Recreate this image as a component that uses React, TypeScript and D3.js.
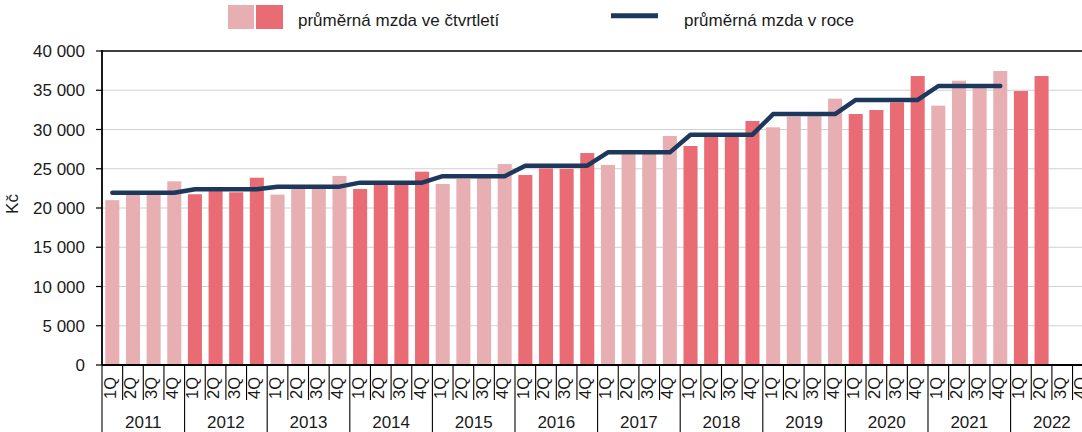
import React from "react";
import * as d3 from "d3";

const years = ["2011","2012","2013","2014","2015","2016","2017","2018","2019","2020","2021","2022"];
const quarters = ["1Q","2Q","3Q","4Q"];
const quarterValues: (number | null)[][] = [
  [21000, 21750, 21700, 23400],
  [21750, 22150, 22000, 23860],
  [21700, 22500, 22600, 24080],
  [22420, 23150, 22930, 24630],
  [23060, 23700, 23900, 25600],
  [24200, 25050, 25000, 27000],
  [25480, 26850, 26900, 29170],
  [27900, 29200, 29100, 31080],
  [30280, 31650, 31700, 33930],
  [31970, 32480, 33460, 36810],
  [33040, 36220, 35300, 37450],
  [34900, 36810, null, null],
];
const annualValues: (number | null)[] = [21950, 22380, 22720, 23230, 24050, 25390, 27090, 29340, 31970, 33760, 35540, null];
const yTicks = [0, 5000, 10000, 15000, 20000, 25000, 30000, 35000, 40000];
const legendBars = "průměrná mzda ve čtvrtletí";
const legendLine = "průměrná mzda v roce";
const yTitle = "Kč";

const W = 1082, H = 432;
const LIGHT = "#E8AFB3", DARK = "#E96B73", NAVY = "#1D385D";
const FONT = "'Liberation Sans', Arial, sans-serif";

export default function App() {
  const keys: string[] = [];
  years.forEach((y) => quarters.forEach((q) => keys.push(y + "-" + q)));
  const x = d3.scaleBand<string>().domain(keys).range([102, 102 + 48 * 20.65]).paddingInner(0.32).paddingOuter(0.16);
  const y = d3.scaleLinear().domain([0, 40000]).range([365, 51]);
  const step = x.step();
  const fmt = (v: number) => d3.format(",")(v).replace(/,/g, " ");

  const bars: { key: string; v: number; yi: number }[] = [];
  years.forEach((yr, yi) => quarters.forEach((q, qi) => {
    const v = quarterValues[yi][qi];
    if (v != null) bars.push({ key: yr + "-" + q, v, yi });
  }));

  const linePts: [number, number][] = [];
  years.forEach((yr, yi) => {
    const a = annualValues[yi];
    if (a == null) return;
    quarters.forEach((q) => linePts.push([x(yr + "-" + q)! + x.bandwidth() / 2, y(a)]));
  });
  const line = d3.line();

  const x0 = 102;
  return (
    <svg width={W} height={H} style={{ position: "absolute", left: 0, top: 0, background: "#fff" }} fontFamily={FONT}>
      {/* legend */}
      <rect x={228} y={5} width={26} height={24} fill={LIGHT} />
      <rect x={256} y={5} width={27} height={24} fill={DARK} />
      <text x={298} y={26} fontSize={17} fill="#1a1a1a">{legendBars}</text>
      <line x1={611} x2={658} y1={15.7} y2={15.7} stroke={NAVY} strokeWidth={5} />
      <text x={684} y={26} fontSize={17} fill="#1a1a1a">{legendLine}</text>

      {/* gridlines */}
      {yTicks.filter((t) => t > 0 && t < 40000).map((t) => (
        <line key={t} x1={x0} x2={W} y1={y(t)} y2={y(t)} stroke="#D0D0D0" strokeWidth={1.2} />
      ))}
      <line x1={x0} x2={W} y1={y(40000)} y2={y(40000)} stroke="#000" strokeWidth={1.6} />

      {/* bars */}
      {bars.map((b) => (
        <rect key={b.key} x={x(b.key)} y={y(b.v)} width={x.bandwidth()} height={y(0) - y(b.v)}
          fill={b.yi % 2 === 0 ? LIGHT : DARK} />
      ))}

      {/* annual line */}
      <path d={line(linePts) || ""} fill="none" stroke={NAVY} strokeWidth={4.5} strokeLinecap="round" strokeLinejoin="round" />

      {/* y axis */}
      <line x1={x0} x2={x0} y1={y(40000) - 1} y2={y(0)} stroke="#000" strokeWidth={1.8} />
      {yTicks.map((t) => (
        <g key={t}>
          <line x1={96} x2={x0} y1={y(t)} y2={y(t)} stroke="#000" strokeWidth={1.2} />
          <text x={85} y={y(t) + 6} fontSize={17} textAnchor="end" fill="#1a1a1a">{fmt(t)}</text>
        </g>
      ))}
      <text transform={`translate(17.5,204) rotate(-90)`} fontSize={17} textAnchor="middle" fill="#1a1a1a">{yTitle}</text>

      {/* x axis */}
      <line x1={x0} x2={W} y1={y(0)} y2={y(0)} stroke="#000" strokeWidth={1.8} />
      {keys.map((k, i) => {
        const left = x0 + i * step;
        const isYear = i % 4 === 0;
        return (
          <g key={k}>
            <line x1={left} x2={left} y1={y(0)} y2={isYear ? H : 400} stroke="#000" strokeWidth={1.1} />
            <text transform={`translate(${left + step / 2 + 3.5},399) rotate(-90)`} fontSize={16.5} fill="#1a1a1a">{k.split("-")[1]}</text>
          </g>
        );
      })}
      {years.map((yr, i) => (
        <text key={yr} x={x0 + (i * 4 + 2) * step} y={428} fontSize={17} textAnchor="middle" fill="#1a1a1a">{yr}</text>
      ))}
    </svg>
  );
}
